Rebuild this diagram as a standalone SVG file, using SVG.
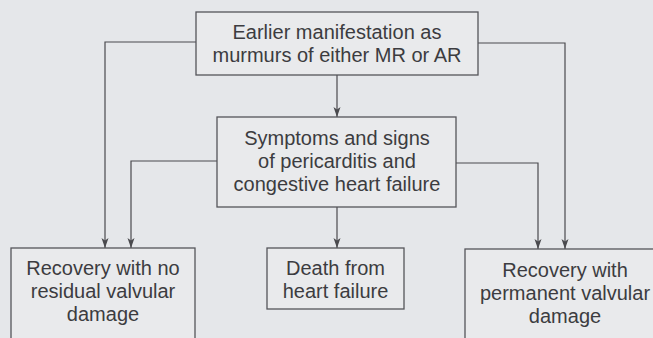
<svg xmlns="http://www.w3.org/2000/svg" width="653" height="338" viewBox="0 0 653 338">
  <defs>
    <marker id="arr" viewBox="0 0 10 10" refX="10" refY="5" markerWidth="10" markerHeight="10" markerUnits="userSpaceOnUse" orient="auto">
      <path d="M0,1.5 L10,5 L0,8.5 L2.5,5 Z" fill="#4a4a4e"/>
    </marker>
  </defs>
  <style>
    .box { fill: #e9eaec; stroke: #55555a; stroke-width: 1.3; }
    .lbl { font-family: "Liberation Sans", Arial, sans-serif; font-size: 20px; fill: #3c3c40; text-anchor: middle; }
    .con { fill: none; stroke: #4a4a4e; stroke-width: 1.2; marker-end: url(#arr); }
  </style>
  <rect width="653" height="338" fill="#e5e7ea"/>

  <g id="connectors">
    <path class="con" d="M337,75 V117"/>
    <path class="con" d="M196,42 H105 V248"/>
    <path class="con" d="M478,43 H565 V249"/>
    <path class="con" d="M217,161 H131 V248"/>
    <path class="con" d="M456,163 H538 V249"/>
    <path class="con" d="M337,207 V248"/>
  </g>

  <g id="earlier">
    <rect class="box" x="196" y="12" width="282" height="63"/>
    <text class="lbl" x="337" y="39">Earlier manifestation as</text>
    <text class="lbl" x="337" y="62">murmurs of either MR or AR</text>
  </g>

  <g id="symptoms">
    <rect class="box" x="217" y="117" width="239" height="90"/>
    <text class="lbl" x="337" y="145">Symptoms and signs</text>
    <text class="lbl" x="337" y="168">of pericarditis and</text>
    <text class="lbl" x="337" y="191">congestive heart failure</text>
  </g>

  <g id="recovery-none">
    <rect class="box" x="11" y="248" width="184" height="100"/>
    <text class="lbl" x="103" y="275">Recovery with no</text>
    <text class="lbl" x="103" y="298">residual valvular</text>
    <text class="lbl" x="103" y="321">damage</text>
  </g>

  <g id="death">
    <rect class="box" x="267" y="248" width="137" height="61"/>
    <text class="lbl" x="335.5" y="275">Death from</text>
    <text class="lbl" x="335.5" y="298">heart failure</text>
  </g>

  <g id="recovery-permanent">
    <rect class="box" x="465" y="249" width="200" height="100"/>
    <text class="lbl" x="565" y="277">Recovery with</text>
    <text class="lbl" x="565" y="300">permanent valvular</text>
    <text class="lbl" x="565" y="323">damage</text>
  </g>
</svg>
